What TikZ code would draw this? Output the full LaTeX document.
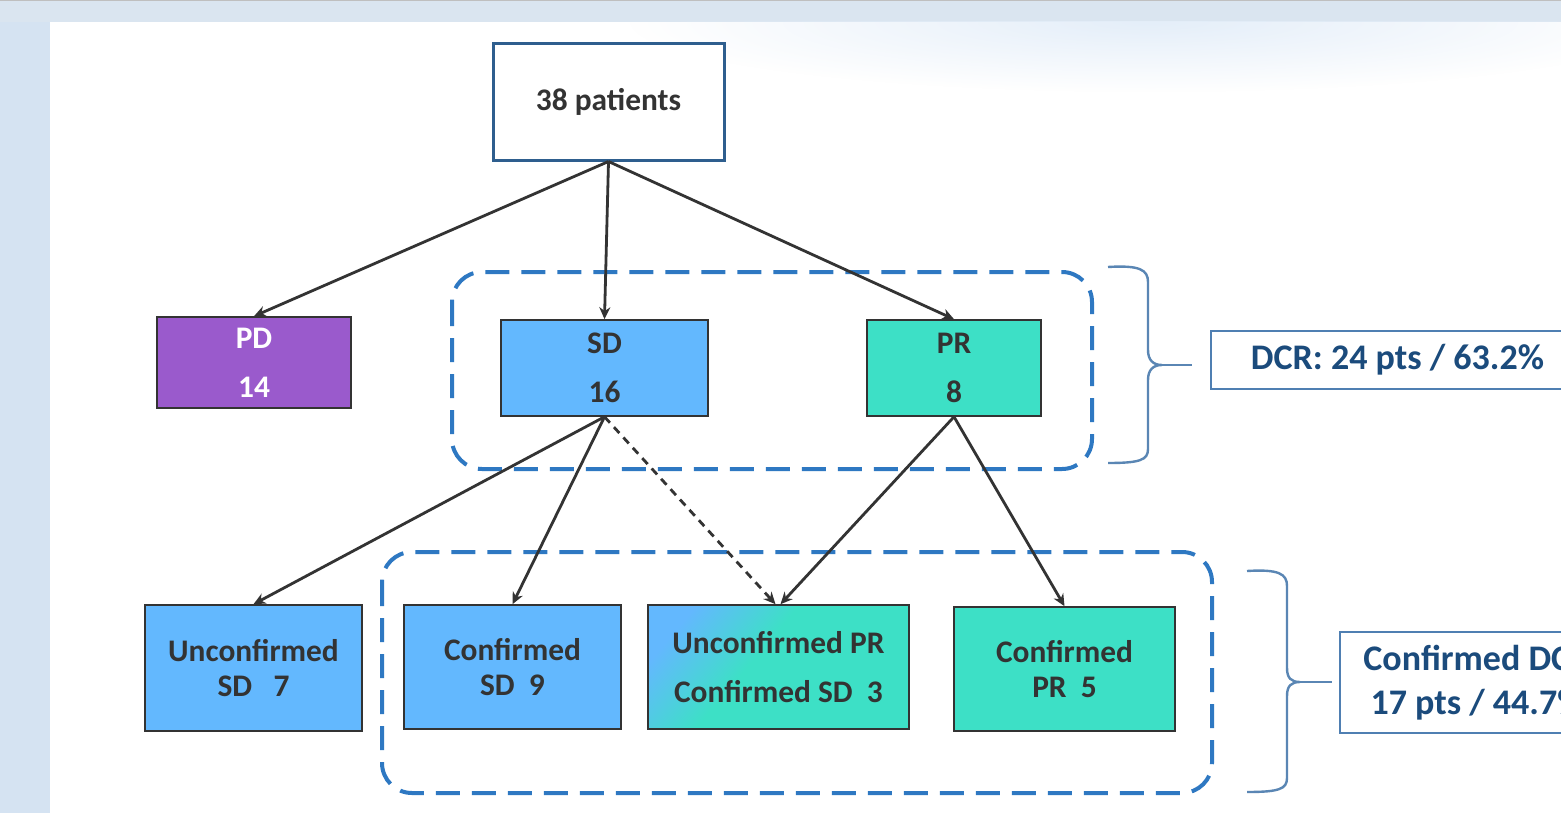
\documentclass[tikz,border=0pt]{standalone}
\usepackage{fontspec}
\setmainfont{Carlito}
\usetikzlibrary{arrows.meta,fadings}
\tikzfading[name=hazefade, inner color=transparent!0, outer color=transparent!100]
\definecolor{bgblue}{HTML}{D5E3F2}
\definecolor{topa}{HTML}{DAE5F0}
\definecolor{topb}{HTML}{E6E3E0}
\definecolor{haze}{HTML}{E4EEF9}
\definecolor{pdpurple}{HTML}{9A5ACC}
\definecolor{sdblue}{HTML}{63B8FE}
\definecolor{prteal}{HTML}{3DE0C6}
\definecolor{dashblue}{HTML}{2E78C2}
\definecolor{darkline}{HTML}{333333}
\definecolor{topborder}{HTML}{2E5E8E}
\definecolor{dcrtext}{HTML}{1B4B7C}
\definecolor{dcrborder}{HTML}{4F7FB2}
\definecolor{bracecol}{HTML}{5A86B4}
\pgfdeclarehorizontalshading{mixshade}{100bp}{color(0bp)=(sdblue); color(24bp)=(sdblue); color(44bp)=(prteal); color(100bp)=(prteal)}
\begin{document}
\begin{tikzpicture}[x=0.5pt,y=-0.5pt,
  box/.style={draw=darkline, line width=0.8pt, align=center, inner sep=0pt,
    text=darkline, font=\bfseries\fontsize{15.7}{24.5}\selectfont},
  tightbox/.style={box, font=\bfseries\fontsize{15.7}{17.5}\selectfont},
  arr/.style={draw=darkline, line width=1.4pt, -{Stealth[length=6pt,width=5.5pt]}},
  dasharr/.style={arr, dash pattern=on 4pt off 3pt},
  dashrect/.style={draw=dashblue, line width=2pt, dash pattern=on 12pt off 6pt, rounded corners=15pt},
  bracepath/.style={draw=bracecol, line width=1.2pt},
  dcrbox/.style={draw=dcrborder, line width=1pt, fill=white, inner sep=0pt, align=center,
    text=dcrtext, font=\bfseries\fontsize{18}{22}\selectfont}]
\useasboundingbox (0,0) rectangle (1561,813);
\clip (0,0) rectangle (1561,813);
% background
\fill[bgblue] (0,0) rectangle (50,813);
\shade[left color=topa, middle color=topb, right color=topa] (0,0) rectangle (1561,22);
\fill[black!25] (0,0) rectangle (1561,1.5);
\fill[white] (50,22) rectangle (1561,813);
\begin{scope}
\clip (50,22) rectangle (1561,813);
\fill[haze, path fading=hazefade] (1150,22) ellipse [x radius=520, y radius=70];
\end{scope}

% dashed groups
\draw[dashrect] (452,272) rectangle (1092,469);
\draw[dashrect] (382,552) rectangle (1212,793);

% nodes
\node[box, draw=topborder, line width=1.5pt, fill=white, minimum width=115.5pt, minimum height=58pt] (top) at (608.5,102) {38 patients};
\node[box, fill=pdpurple, text=white, minimum width=97pt, minimum height=45.5pt] (pd) at (254,362.5) {PD\\14};
\node[box, fill=sdblue, minimum width=103.5pt, minimum height=48pt] (sd) at (604.5,368) {SD\\16};
\node[box, fill=prteal, minimum width=87pt, minimum height=48pt] (pr) at (954,368) {PR\\8};

\node[tightbox, fill=sdblue, minimum width=108.5pt, minimum height=63pt] (usd) at (253.5,668) {Unconfirmed\\SD\ \ \ 7};
\node[tightbox, fill=sdblue, minimum width=108.5pt, minimum height=62pt] (csd) at (512.5,667) {Confirmed\\SD\ \ 9};
\node[box, shading=mixshade, shading angle=-40, minimum width=130.5pt, minimum height=62pt] (mix) at (778.5,667) {Unconfirmed PR\\Confirmed SD\ \ 3};
\node[tightbox, fill=prteal, minimum width=110.5pt, minimum height=62pt] (cpr) at (1064.5,669) {Confirmed\\PR\ \ 5};

\node[dcrbox, minimum width=186.5pt, minimum height=29pt] (dcr) at (1397.5,360) {DCR: 24 pts / 63.2\%};
\node[dcrbox, minimum width=137pt, minimum height=50.5pt] (cdcr) at (1477,682.5) {Confirmed DCR\\17 pts / 44.7\%};

% arrows
\draw[arr] (top.south) -- (pd.north);
\draw[arr] (top.south) -- (sd.north);
\draw[arr] (top.south) -- (pr.north);
\draw[arr] (sd.south) -- (usd.north);
\draw[arr] (sd.south) -- (csd.north);
\draw[dasharr] (sd.south) -- ([xshift=-1.5pt]mix.north);
\draw[arr] (pr.south) -- ([xshift=1pt]mix.north);
\draw[arr] (pr.south) -- (cpr.north);

% braces
\coordinate (b1) at (1192,365);
\coordinate (b2) at (1332,682);
\draw[bracepath] (1108,267) .. controls (1140,265) and (1148,270) .. (1148,282) -- (1148,350)
  .. controls (1148,360) and (1153,365) .. (1162,365)
  .. controls (1153,365) and (1148,370) .. (1148,380) -- (1148,449)
  .. controls (1148,460) and (1140,463) .. (1108,463);
\draw[bracepath] (1160,365) -- (b1);
\draw[bracepath] (1247,571) .. controls (1279,569) and (1287,574) .. (1287,586) -- (1287,668)
  .. controls (1287,678) and (1291,682) .. (1300,682)
  .. controls (1291,682) and (1287,686) .. (1287,696) -- (1287,778)
  .. controls (1287,789) and (1279,792) .. (1247,792);
\draw[bracepath] (1298,682) -- (b2);
\end{tikzpicture}
\end{document}
